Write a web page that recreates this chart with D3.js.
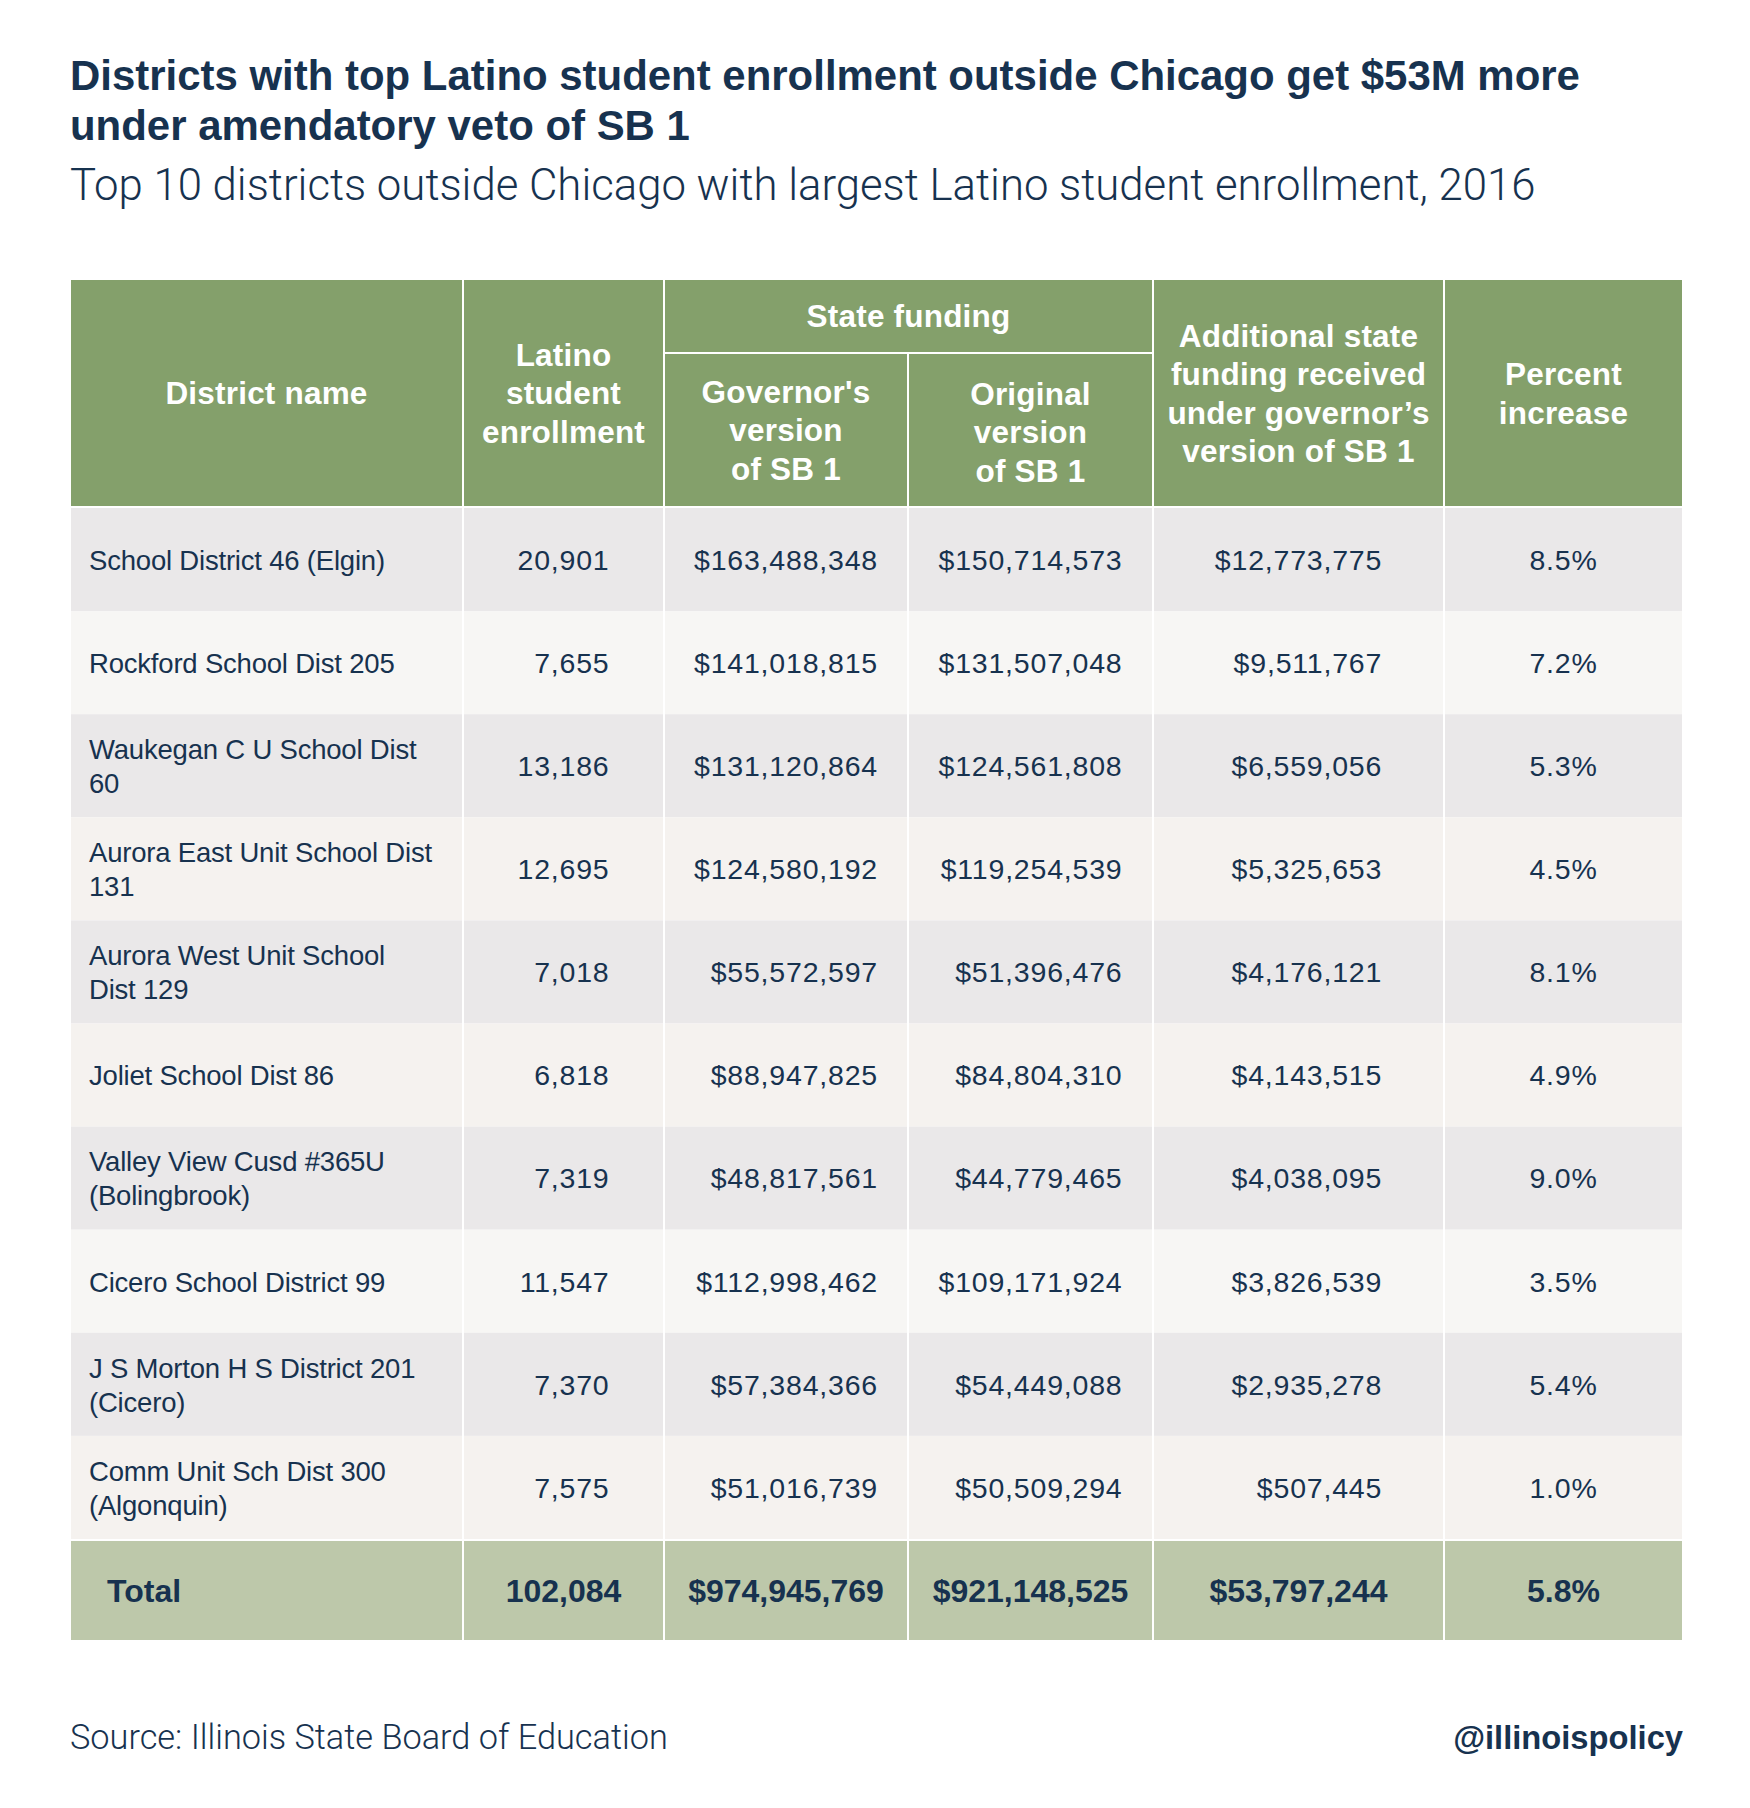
<!DOCTYPE html>
<html><head><meta charset="utf-8">
<script src="https://cdn.jsdelivr.net/npm/d3@7"></script>
<style>body{margin:0;background:#fff} svg{display:block}</style>
</head><body>
<script>
// ---------------- DATA ----------------
const titleLines = [
  "Districts with top Latino student enrollment outside Chicago get $53M more",
  "under amendatory veto of SB 1"
];
const subtitle = "Top 10 districts outside Chicago with largest Latino student enrollment, 2016";
const sourceText = "Source: Illinois State Board of Education";
const handleText = "@illinoispolicy";

const districts = [
  "School District 46 (Elgin)",
  "Rockford School Dist 205",
  "Waukegan C U School Dist\n60",
  "Aurora East Unit School Dist\n131",
  "Aurora West Unit School\nDist 129",
  "Joliet School Dist 86",
  "Valley View Cusd #365U\n(Bolingbrook)",
  "Cicero School District 99",
  "J S Morton H S District 201\n(Cicero)",
  "Comm Unit Sch Dist 300\n(Algonquin)"
];
const enrollment = [20901, 7655, 13186, 12695, 7018, 6818, 7319, 11547, 7370, 7575];
const governorFunding = [163488348, 141018815, 131120864, 124580192, 55572597, 88947825, 48817561, 112998462, 57384366, 51016739];
const originalFunding = [150714573, 131507048, 124561808, 119254539, 51396476, 84804310, 44779465, 109171924, 54449088, 50509294];
const additionalFunding = [12773775, 9511767, 6559056, 5325653, 4176121, 4143515, 4038095, 3826539, 2935278, 507445];
const percentIncrease = [8.5, 7.2, 5.3, 4.5, 8.1, 4.9, 9.0, 3.5, 5.4, 1.0];

const totalLabel = "Total";
const totalValues = [102084, 974945769, 921148525, 53797244, 5.8];

const headerDistrict = ["District name"];
const headerEnrollment = ["Latino", "student", "enrollment"];
const headerGroup = ["State funding"];
const headerGovernor = ["Governor's", "version", "of SB 1"];
const headerOriginal = ["Original", "version", "of SB 1"];
const headerAdditional = ["Additional state", "funding received", "under governor\u2019s", "version of SB 1"];
const headerPercent = ["Percent", "increase"];

// ---------------- LAYOUT / STYLE ----------------
const W = 1750, H = 1808;
const navy = "#17324f";
const green = "#84a06b";
const totalFill = "#bdc8aa";
const rowFills = ["#eae8e9", "#f7f6f4", "#eae8e9", "#f5f2ef", "#eae8e9", "#f5f2ef", "#eae8e9", "#f7f6f4", "#eae8e9", "#f5f2ef"];
const F = "'Liberation Sans', Arial, Helvetica, sans-serif";
const FL = "Roboto, 'Liberation Sans', Arial, sans-serif";

const colEdges = [70, 463, 664, 908, 1153, 1444, 1683];
const x = d3.scaleLinear().domain(d3.range(colEdges.length)).range(colEdges);
const headerTop = 279, headerMid = 353, headerBottom = 507;
const bodyTop = 508, bodyBottom = 1539;
const totalTop = 1540, totalBottom = 1641;
const y = d3.scaleBand().domain(d3.range(districts.length)).range([bodyTop, bodyBottom]);
const gap = 1; // half-width of white rules

const svg = d3.select("body").append("svg").attr("width", W).attr("height", H);
svg.append("rect").attr("width", W).attr("height", H).attr("fill", "#fff");

function fitWidth(sel, target) {
  const fs = +sel.attr("font-size");
  const w = sel.node().getComputedTextLength();
  sel.attr("font-size", fs * target / w);
}

// ---------------- TITLES ----------------
const tl = svg.append("g").attr("font-family", F).attr("font-weight", 700).attr("fill", navy);
const t1 = tl.append("text").attr("x", 70).attr("y", 90).attr("font-size", 39).text(titleLines[0]);
fitWidth(t1, 1510);
tl.append("text").attr("x", 70).attr("y", 140).attr("font-size", t1.attr("font-size")).text(titleLines[1]);

const st = svg.append("text").attr("x", 70).attr("y", 200).attr("font-family", FL).attr("font-weight", 300)
  .attr("font-size", 42).attr("fill", navy).text(subtitle);
fitWidth(st, 1466);

// ---------------- HEADER ----------------
function cell(x0, x1, y0, y1, fill) {
  svg.append("rect").attr("x", x0 + gap).attr("y", y0 + gap)
    .attr("width", x1 - x0 - 2 * gap).attr("height", y1 - y0 - 2 * gap).attr("fill", fill);
}
cell(x(0), x(1), headerTop, headerBottom, green);
cell(x(1), x(2), headerTop, headerBottom, green);
cell(x(2), x(4), headerTop, headerMid, green);
cell(x(2), x(3), headerMid, headerBottom, green);
cell(x(3), x(4), headerMid, headerBottom, green);
cell(x(4), x(5), headerTop, headerBottom, green);
cell(x(5), x(6), headerTop, headerBottom, green);

const hdrSize = 31.5, hdrLH = 38.5;
function headerText(lines, cx, cy) {
  const n = lines.length;
  const t = svg.append("text").attr("font-family", F).attr("font-weight", 700).attr("font-size", hdrSize)
    .attr("fill", "#fff").attr("text-anchor", "middle").attr("letter-spacing", 0.2);
  lines.forEach((l, i) => {
    t.append("tspan").attr("x", cx).attr("y", cy + 0.36 * hdrSize + (i - (n - 1) / 2) * hdrLH).text(l);
  });
}
const hc = (headerTop + headerBottom) / 2;
headerText(headerDistrict, (x(0) + x(1)) / 2, hc);
headerText(headerEnrollment, (x(1) + x(2)) / 2, hc);
headerText(headerGroup, (x(2) + x(4)) / 2, (headerTop + headerMid) / 2);
headerText(headerGovernor, (x(2) + x(3)) / 2, (headerMid + headerBottom) / 2);
headerText(headerOriginal, (x(3) + x(4)) / 2, (headerMid + headerBottom) / 2 + 2);
headerText(headerAdditional, (x(4) + x(5)) / 2, hc);
headerText(headerPercent, (x(5) + x(6)) / 2, hc);

// ---------------- BODY ----------------
const bodySize = 28.5, nameSize = 27.5, bodyLH = 34;
const rows = svg.append("g").selectAll("g").data(districts).join("g");
rows.each(function (d, i) {
  const g = d3.select(this);
  for (let c = 0; c < 6; c++) {
    g.append("rect").attr("x", x(c) + gap).attr("y", y(i))
      .attr("width", x(c + 1) - x(c) - 2 * gap).attr("height", y.bandwidth()).attr("fill", rowFills[i]);
  }
});
const fmtInt = d3.format(",");
const fmtUsd = d3.format("$,");
const fmtPct = v => d3.format(".1f")(v) + "%";

const nameG = svg.append("g").attr("font-family", F).attr("font-size", nameSize).attr("fill", navy);
districts.forEach((d, i) => {
  const lines = d.split("\n");
  const cy = y(i) + y.bandwidth() / 2;
  const t = nameG.append("text").attr("letter-spacing", -0.2);
  lines.forEach((l, k) => {
    t.append("tspan").attr("x", x(0) + 19).attr("y", cy + 0.36 * bodySize + (k - (lines.length - 1) / 2) * bodyLH).text(l);
  });
});

// numeric columns: right-aligned, block centred on column by widest value
const numCols = [
  {vals: enrollment, fmt: fmtInt, c: 1},
  {vals: governorFunding, fmt: fmtUsd, c: 2},
  {vals: originalFunding, fmt: fmtUsd, c: 3},
  {vals: additionalFunding, fmt: fmtUsd, c: 4},
  {vals: percentIncrease, fmt: fmtPct, c: 5}
];
numCols.forEach(col => {
  const g = svg.append("g").attr("font-family", F).attr("font-size", bodySize).attr("fill", navy);
  const texts = g.selectAll("text").data(col.vals).join("text")
    .attr("letter-spacing", 0.8)
    .attr("y", (v, i) => y(i) + y.bandwidth() / 2 + 0.36 * bodySize)
    .text(v => col.fmt(v));
  let maxW = 0;
  texts.each(function () { maxW = Math.max(maxW, this.getComputedTextLength()); });
  const cx = (x(col.c) + x(col.c + 1)) / 2;
  texts.attr("text-anchor", "end").attr("x", cx + maxW / 2);
});

// ---------------- TOTAL ROW ----------------
for (let c = 0; c < 6; c++) cell(x(c), x(c + 1), totalTop, totalBottom, totalFill);
const totSize = 32;
const tcy = (totalTop + totalBottom) / 2 + 0.36 * totSize;
const tg = svg.append("g").attr("font-family", F).attr("font-weight", 700).attr("font-size", totSize).attr("fill", navy);
tg.append("text").attr("x", x(0) + 37).attr("y", tcy).text(totalLabel);
const totFmts = [fmtInt, fmtUsd, fmtUsd, fmtUsd, fmtPct];
tg.selectAll("text.tv").data(totalValues).join("text").attr("class", "tv")
  .attr("text-anchor", "middle")
  .attr("x", (v, i) => (x(i + 1) + x(i + 2)) / 2)
  .attr("y", tcy)
  .text((v, i) => totFmts[i](v));

// ---------------- FOOTER ----------------
const src = svg.append("text").attr("x", 70).attr("y", 1749).attr("font-family", FL).attr("font-weight", 300)
  .attr("font-size", 34).attr("fill", navy).text(sourceText);
fitWidth(src, 598);
const hd = svg.append("text").attr("x", 1683).attr("y", 1749).attr("text-anchor", "end").attr("font-family", F)
  .attr("font-weight", 700).attr("font-size", 33).attr("fill", navy).text(handleText);
fitWidth(hd, 230);
</script>
</body></html>
